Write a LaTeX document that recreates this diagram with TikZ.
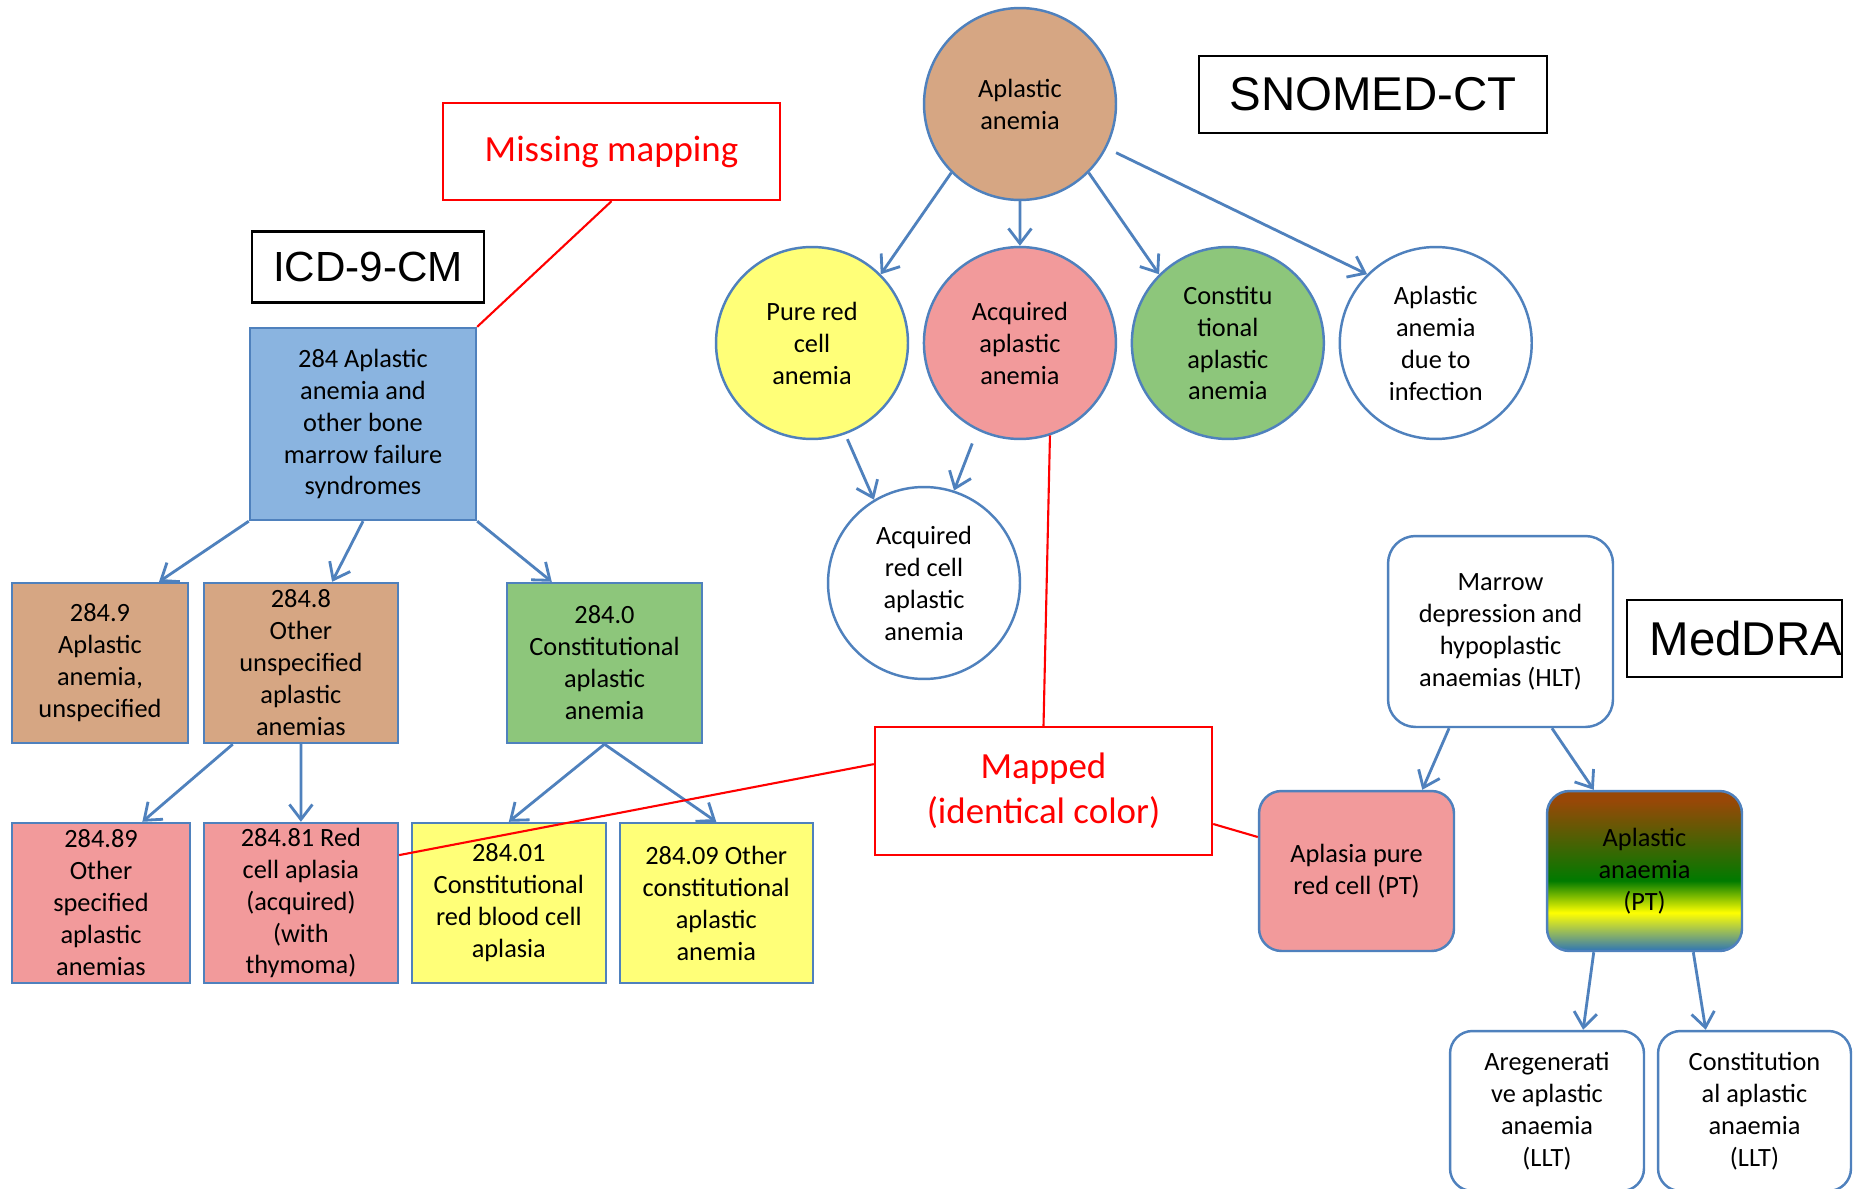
\documentclass[tikz,border=0pt]{standalone}
\usepackage{fontspec}
\setmainfont{Carlito}
\newfontfamily\labelfont{Liberation Sans}
\usepackage{tikz}
\usetikzlibrary{arrows.meta, positioning, shapes.geometric}
\definecolor{mapblue}{HTML}{4F81BD}
\definecolor{mapred}{HTML}{FF0000}
\definecolor{icdblue}{HTML}{8AB4E0}
\definecolor{tanfill}{HTML}{D6A683}
\definecolor{redfill}{HTML}{F29A9B}
\definecolor{yellowfill}{HTML}{FFFF78}
\definecolor{greenfill}{HTML}{8DC67B}
\definecolor{ptbrown}{HTML}{984807}
\definecolor{ptgreen}{HTML}{007A00}
\definecolor{ptyellow}{HTML}{FFFF00}
\definecolor{ptblue}{HTML}{2E75B6}
\pgfdeclareverticalshading{ptgrad}{100bp}{color(0bp)=(ptblue); color(25bp)=(ptblue); color(37bp)=(ptyellow); color(47bp)=(ptgreen); color(72bp)=(ptbrown); color(100bp)=(ptbrown)}

\begin{document}
\begin{tikzpicture}[x=0.02cm, y=-0.02cm, font=\fontsize{15}{18.2}\selectfont,
    edge/.style={draw=mapblue, line width=1.6pt, -{Straight Barb[length=3mm,width=4.6mm]}},
    mapline/.style={draw=mapred, line width=1.2pt},
    codebox/.style={rectangle, draw=mapblue, line width=1.4pt, minimum width=3.88cm, minimum height=3.2cm, inner sep=0pt, align=center},
    concept/.style={circle, draw=mapblue, line width=1.4pt, minimum size=3.84cm, inner sep=0pt, align=center},
    termbox/.style={rectangle, rounded corners=0.45cm, draw=mapblue, line width=1.4pt, minimum width=3.88cm, minimum height=3.2cm, inner sep=0pt, align=center},
    namebox/.style={rectangle, draw=black, line width=1.2pt, inner sep=0pt, font=\labelfont\fontsize{27}{30}\selectfont},
    notebox/.style={rectangle, draw=mapred, line width=1.4pt, inner sep=0pt, align=center, text=mapred, font=\fontsize{21}{25.5}\selectfont}]
  \path[use as bounding box, fill=white] (0,0) rectangle (1862,1189);

  % ICD-9-CM (left)
  \node[namebox, minimum width=4.64cm, minimum height=1.42cm, font=\labelfont\fontsize{24}{28}\selectfont] (icdname) at (368,267) {ICD-9-CM};
  \node[notebox, minimum width=6.74cm, minimum height=1.94cm] (missing) at (611.5,151.5) {Missing mapping};
  \node[codebox, fill=icdblue, minimum width=4.52cm, minimum height=3.84cm] (c284) at (363,424) {284 Aplastic\\anemia and\\other bone\\marrow failure\\syndromes};
  \node[codebox, fill=tanfill, minimum width=3.52cm] (c2849) at (100,663) {284.9\\Aplastic\\anemia,\\unspecified};
  \node[codebox, fill=tanfill, right=0.27cm of c2849] (c2848) {284.8\\Other\\unspecified\\aplastic\\anemias};
  \node[codebox, fill=greenfill, minimum width=3.9cm] (c2840) at (604.5,663) {284.0\\Constitutional\\aplastic\\anemia};
  \node[codebox, fill=redfill, minimum width=3.56cm] (c28489) at (101,903) {284.89\\Other\\specified\\aplastic\\anemias};
  \node[codebox, fill=redfill, right=0.23cm of c28489] (c28481) {284.81 Red\\cell aplasia\\(acquired)\\(with\\thymoma)};
  \node[codebox, fill=yellowfill, right=0.23cm of c28481] (c28401) {284.01\\Constitutional\\red blood cell\\aplasia};
  \node[codebox, fill=yellowfill, minimum width=3.86cm, right=0.23cm of c28401] (c28409) {284.09 Other\\constitutional\\aplastic\\anemia};

  % SNOMED-CT (top)
  \node[namebox, minimum width=6.96cm, minimum height=1.54cm] (snomedname) at (1373,94.5) {SNOMED-CT};
  \node[concept, fill=tanfill] (sRoot) at (1020,104) {Aplastic\\anemia};
  \node[concept, fill=yellowfill] (sPure) at (812,343) {Pure red\\cell\\anemia};
  \node[concept, fill=redfill, right=0.27cm of sPure] (sAcq) {Acquired\\aplastic\\anemia};
  \node[concept, fill=greenfill, right=0.27cm of sAcq] (sConst) {Constitu\\tional\\aplastic\\anemia};
  \node[concept, right=0.27cm of sConst] (sInf) {Aplastic\\anemia\\due to\\infection};
  \node[concept] (sAcqRed) at (924,583) {Acquired\\red cell\\aplastic\\anemia};

  % MedDRA (right)
  \node[namebox, minimum width=4.3cm, minimum height=1.54cm, text width=4.3cm, align=right] (medname) at (1734.5,638.5) {MedDRA};
  \node[termbox, rounded corners=0.55cm, minimum width=4.5cm, minimum height=3.82cm] (mHLT) at (1500.5,631.5) {Marrow\\depression and\\hypoplastic\\anaemias (HLT)};
  \node[termbox, fill=redfill, minimum width=3.9cm] (mAplasia) at (1356.5,871) {Aplasia pure\\red cell (PT)};
  \node[termbox, shading=ptgrad, minimum width=3.9cm] (mAplastic) at (1644.5,871) {Aplastic\\anaemia\\(PT)};
  \node[termbox] (mAregen) at (1547,1111) {Aregenerati\\ve aplastic\\anaemia\\(LLT)};
  \node[termbox, minimum width=3.86cm] (mConst) at (1754.5,1111) {Constitution\\al aplastic\\anaemia\\(LLT)};

  \node[notebox, minimum width=6.74cm, minimum height=2.56cm] (mapped) at (1043.5,791) {Mapped\\(identical color)};

  % hierarchy arrows
  \draw[edge] (c284.south west) -- (c2849.54);
  \draw[edge] (c284.south) -- (c2848.69);
  \draw[edge] (c284.south east) -- (c2840.123);
  \draw[edge] (c2848.230) -- (c28489.63);
  \draw[edge] (c2848.south) -- (c28481.north);
  \draw[edge] (c2840.south) -- (c28401.north);
  \draw[edge] (c2840.south) -- (c28409.north);
  \draw[edge] (sRoot.225) -- (sPure.45);
  \draw[edge] (sRoot.south) -- (sAcq.north);
  \draw[edge] (sRoot.315) -- (sConst.135);
  \draw[edge, shorten <=6pt] (sRoot.333) -- (sInf.135);
  \draw[edge, shorten <=3pt] (sPure.290) -- (sAcqRed.121);
  \draw[edge, shorten <=8pt] (sAcq.244) -- (sAcqRed.72);
  \draw[edge] (mHLT.242) -- (mAplasia.51);
  \draw[edge] (mHLT.298) -- (mAplastic.122);
  \draw[edge] (mAplastic.238) -- (mAregen.66);
  \draw[edge] (mAplastic.301) -- (mConst.121);

  % mapping lines
  \draw[mapline] (missing.south) -- (c284.north east);
  \draw[mapline] (mapped.north) -- (sAcq.288);
  \draw[mapline] (mapped.171) -- (c28481.26);
  \draw[mapline] (mapped.349) -- (mAplasia.161);
\end{tikzpicture}
\end{document}
